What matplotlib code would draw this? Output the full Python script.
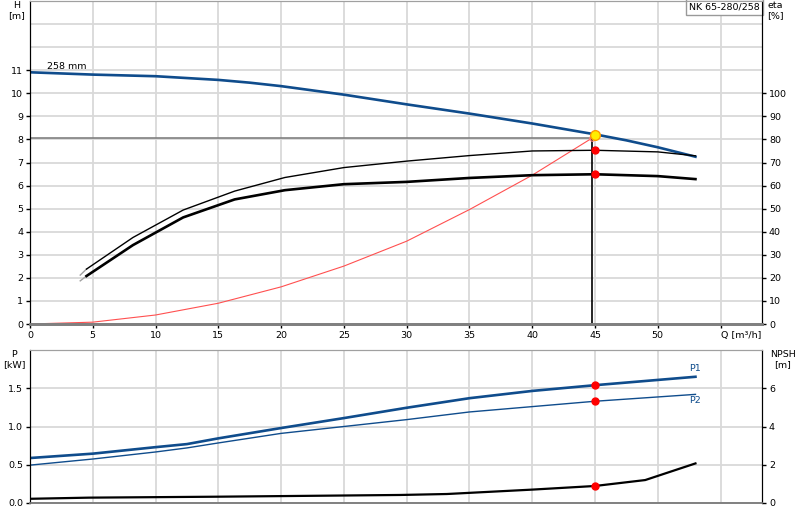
import matplotlib
matplotlib.use('Agg')
import matplotlib.pyplot as plt

# pompkurve NK 65-280/258
q_head = [0, 5, 10, 15, 17.5, 20, 25, 30, 35, 40, 45, 47.5, 50, 53]
head = [10.91, 10.81, 10.74, 10.58, 10.46, 10.31, 9.94, 9.52, 9.12, 8.69, 8.22, 7.96, 7.66, 7.25]

q_eta = [4.5, 8.2, 12.2, 16.3, 20.3, 25, 30, 35, 40, 45, 50, 53]
eta_p = [23.8, 37.5, 49.4, 57.6, 63.5, 67.8, 70.6, 73.0, 75.0, 75.3, 74.6, 72.9]
eta_t = [20.8, 34.2, 46.2, 54.0, 58.0, 60.6, 61.6, 63.3, 64.5, 64.9, 64.1, 62.8]
q_eta_ext = [4.0, 4.5]
eta_p_ext = [21.2, 23.8]
eta_t_ext = [18.7, 20.8]

q_sys = [0, 5, 10, 15, 20, 25, 30, 35, 40, 44.8]
h_sys = [0, 0.08, 0.39, 0.9, 1.61, 2.51, 3.59, 4.96, 6.45, 8.07]

q_p = [0, 5, 10, 12.5, 15, 20, 25, 30, 35, 40, 45, 53]
p1 = [0.588, 0.645, 0.73, 0.77, 0.845, 0.98, 1.11, 1.245, 1.37, 1.465, 1.54, 1.65]
p2 = [0.495, 0.575, 0.667, 0.72, 0.785, 0.91, 1.0, 1.09, 1.19, 1.26, 1.33, 1.42]

q_npsh = [0, 4.7, 15, 29.5, 33.2, 40, 45, 49, 53]
npsh = [0.22, 0.28, 0.33, 0.42, 0.47, 0.70, 0.89, 1.2, 2.07]

# werkpunt
q_duty = 45
q_duty_line = 44.8
h_duty = 8.19
h_duty_line = 8.07
eta_p_duty = 75.3
eta_t_duty = 64.9
p1_duty = 1.54
p2_duty = 1.33
npsh_duty = 0.89

x_ticks = list(range(0, 56, 5))
x_labels = [str(v) for v in range(0, 51, 5)] + ['Q [m³/h]']
h_ticks = list(range(0, 12))
eta_ticks = list(range(0, 101, 10))
p_ticks = [0, 0.5, 1.0, 1.5]
p_labels = ['0.0', '0.5', '1.0', '1.5']
npsh_ticks = [0, 2, 4, 6]

blue = '#0f4c8c'
gridc = '#d9d9d9'

plt.rcParams['font.family'] = ['DejaVu Sans']
plt.rcParams['font.size'] = 6.8

fig = plt.figure(figsize=(8, 5.2), dpi=100)

def opmaak(a, a2):
    a.grid(True, which='both', color=gridc, lw=1.3)
    a.set_axisbelow(True)
    a.tick_params(which='major', length=3, width=1, pad=2)
    a.tick_params(which='minor', length=0)
    a2.tick_params(length=3, width=1, pad=2)
    for s in (a, a2):
        s.spines['left'].set_color('black')
        s.spines['right'].set_color('black')
        s.spines['top'].set_color('#a0a0a0')

# bovenste paneel: opvoerhoogte + rendement
ax = fig.add_axes([30/800, 1-324/520, 732/800, 323/520])
ax.set_xlim(0, 58.3)
ax.set_ylim(0, 14)
ax.set_xticks(x_ticks)
ax.set_xticklabels(x_labels)
ax.get_xticklabels()[-1].set_ha('left')
ax.set_yticks(h_ticks)
ax.set_yticks([12, 13, 14], minor=True)
ax2 = ax.twinx()
ax2.set_ylim(0, 140)
ax2.set_yticks(eta_ticks)
opmaak(ax, ax2)
for s in (ax, ax2):
    s.spines['bottom'].set_color('#808080')
    s.spines['bottom'].set_linewidth(2)

ax.plot([0, q_duty_line], [h_duty_line, h_duty_line], color='#808080', lw=1.2)
ax.plot([q_duty_line, q_duty_line], [0, h_duty_line], color='black', lw=1.2)
ax.plot(q_sys, h_sys, color='#ff5050', lw=0.8)
ax.plot(q_head, head, color=blue, lw=1.9)
ax.plot(q_duty_line, h_duty_line, 'o', mfc='none', mec='#ff8080', ms=4, mew=0.8)
ax.plot(q_duty, h_duty, 'o', mfc='#ffee00', mec='#ff9900', ms=7, mew=1, zorder=5)
ax.text(1.35, 11.17, '258 mm', va='center', ha='left')

ax2.plot(q_eta_ext, eta_p_ext, color='#a0a0a0', lw=1.0)
ax2.plot(q_eta_ext, eta_t_ext, color='#a0a0a0', lw=1.0)
ax2.plot(q_eta, eta_p, color='black', lw=1.0)
ax2.plot(q_eta, eta_t, color='black', lw=1.9)
ax2.plot([q_duty, q_duty], [eta_p_duty, eta_t_duty], 'o', color='red', ms=5)

ax.text(0.997, 0.995, 'NK 65-280/258', transform=ax.transAxes, ha='right', va='top',
        bbox=dict(facecolor='white', edgecolor='#999999', boxstyle='square,pad=0.35'))

fig.text(17/800, 1-11/520, 'H\n[m]', ha='center', va='center', linespacing=1.15)
fig.text(775/800, 1-11/520, 'eta\n[%]', ha='center', va='center', linespacing=1.15)

# onderste paneel: vermogen + NPSH
bx = fig.add_axes([30/800, 1-503/520, 732/800, 153/520])
bx.set_xlim(0, 58.3)
bx.set_ylim(0, 2.0)
bx.set_xticks(x_ticks)
bx.set_xticklabels([])
bx.set_yticks(p_ticks)
bx.set_yticklabels(p_labels)
bx2 = bx.twinx()
bx2.set_ylim(0, 8)
bx2.set_yticks(npsh_ticks)
opmaak(bx, bx2)
bx.tick_params(axis='x', length=0)
for s in (bx, bx2):
    s.spines['bottom'].set_color('#808080')
    s.spines['bottom'].set_linewidth(1.2)

bx.plot(q_p, p1, color=blue, lw=1.9)
bx.plot(q_p, p2, color=blue, lw=1.0)
bx.plot([q_duty, q_duty], [p1_duty, p2_duty], 'o', color='red', ms=5)
bx.text(53, 1.76, 'P1', color=blue, ha='center', va='center')
bx.text(53, 1.34, 'P2', color=blue, ha='center', va='center')

bx2.plot(q_npsh, npsh, color='black', lw=1.6)
bx2.plot(q_duty, npsh_duty, 'o', color='red', ms=5)

fig.text(14/800, 1-360/520, 'P\n[kW]', ha='center', va='center', linespacing=1.15)
fig.text(783/800, 1-360/520, 'NPSH\n[m]', ha='center', va='center', linespacing=1.15)

fig.savefig('out.png', dpi=100)
